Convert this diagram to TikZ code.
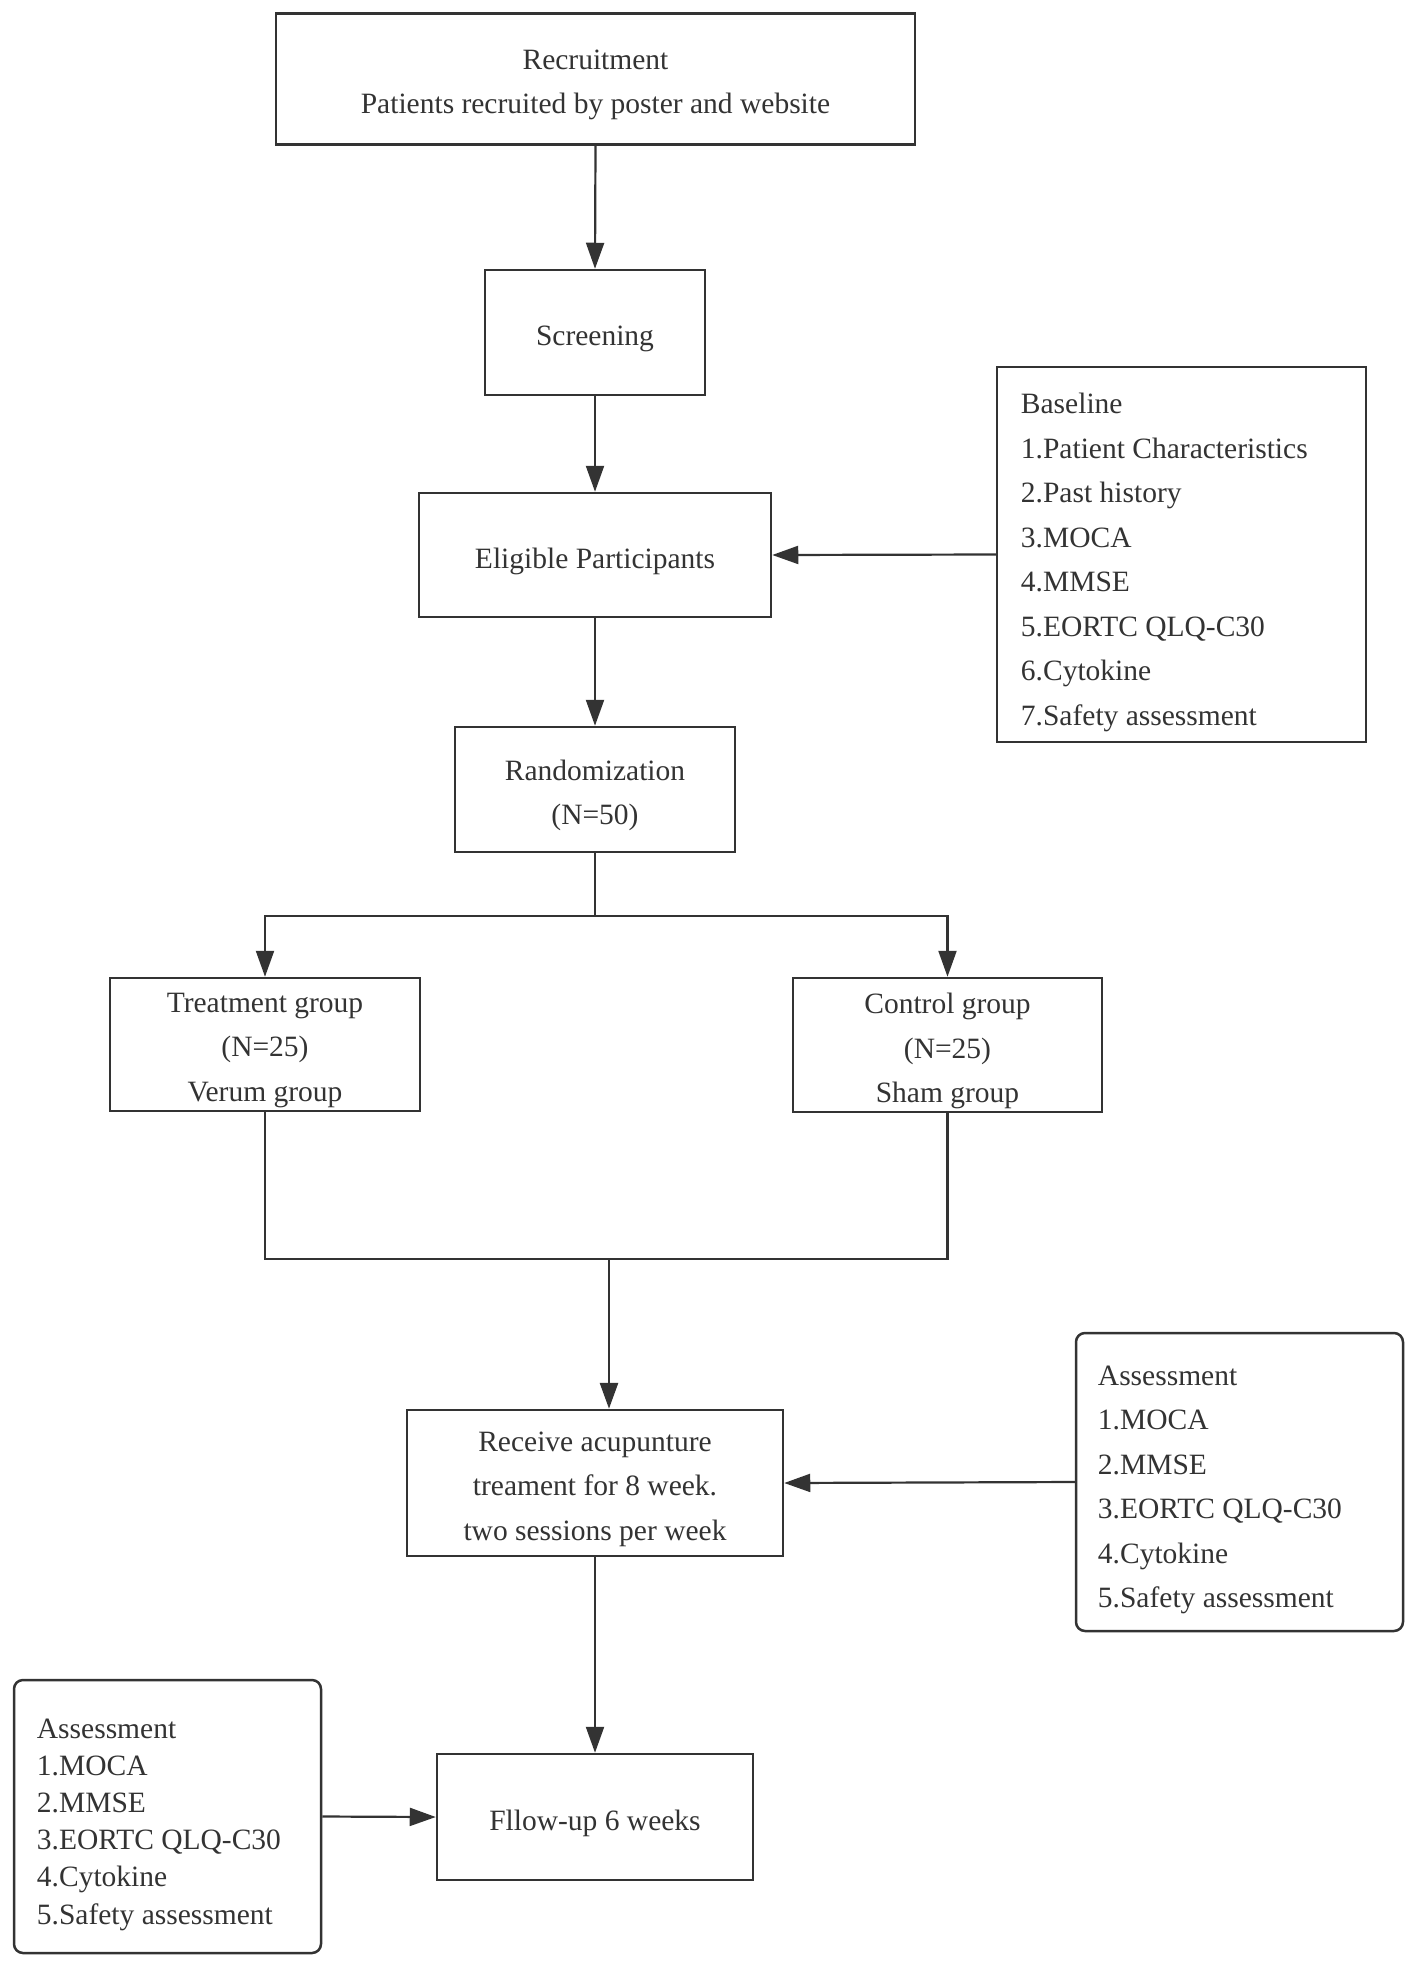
\documentclass[tikz,border=0pt]{standalone}
\usepackage{fontspec}
\setmainfont{Liberation Serif}
\usetikzlibrary{arrows.meta}
\definecolor{ink}{HTML}{333333}
\begin{document}
\begin{tikzpicture}[x=1pt,y=-1pt,
  box/.style={draw=ink, line width=2.5pt, inner sep=0pt},
  rbox/.style={box, rounded corners=9pt},
  lbl/.style={text=ink, inner sep=0pt, align=center,
    font=\fontsize{29.5}{44.5}\selectfont},
  llbl/.style={lbl, align=left, anchor=west},
  conn/.style={draw=ink, line width=2.2pt},
  arr/.style={conn, -{Triangle[length=26pt,width=18pt]}}]
\useasboundingbox[fill=white] (0,0) rectangle (1418,1967);

% boxes
\node[box, minimum width=639pt, minimum height=131pt] (rec) at (595.5,79) {};
\node[box, minimum width=220pt, minimum height=125pt] (scr) at (595,332.5) {};
\node[box, minimum width=352pt, minimum height=124pt] (eli) at (595,555) {};
\node[box, minimum width=369pt, minimum height=375pt] (base) at (1181.5,554.5) {};
\node[box, minimum width=280pt, minimum height=125pt] (rand) at (595,789.5) {};
\node[box, minimum width=310pt, minimum height=133pt] (treat) at (265,1044.5) {};
\node[box, minimum width=309pt, minimum height=134pt] (ctrl) at (947.5,1045) {};
\node[box, minimum width=376pt, minimum height=146pt] (recv) at (595,1483) {};
\node[rbox, minimum width=327pt, minimum height=298pt] (assR) at (1239.5,1482) {};
\node[box, minimum width=316pt, minimum height=126pt] (fol) at (595,1817) {};
\node[rbox, minimum width=307pt, minimum height=273pt] (assL) at (167.5,1816.5) {};

% texts
\node[lbl] (recT) at ([yshift=-6pt]rec.center) {Recruitment\\Patients recruited by poster and website};
\node[lbl] (scrT) at ([yshift=-6pt]scr.center) {Screening};
\node[lbl] (eliT) at ([yshift=-6pt]eli.center) {Eligible Participants};
\node[llbl] (baseT) at ([xshift=25pt,yshift=-8pt]base.west)
  {Baseline\\1.Patient Characteristics\\2.Past history\\3.MOCA\\4.MMSE\\5.EORTC QLQ-C30\\6.Cytokine\\7.Safety assessment};
\node[lbl] (randT) at ([yshift=-6pt]rand.center) {Randomization\\(N=50)};
\node[lbl] (treatT) at ([yshift=-6pt]treat.center) {Treatment group\\(N=25)\\Verum group};
\node[lbl] (ctrlT) at ([yshift=-6pt]ctrl.center) {Control group\\(N=25)\\Sham group};
\node[lbl] (recvT) at ([yshift=-6pt]recv.center) {Receive acupunture\\treament for 8 week.\\two sessions per week};
\node[llbl] (assRT) at ([xshift=23pt,yshift=-8pt]assR.west)
  {Assessment\\1.MOCA\\2.MMSE\\3.EORTC QLQ-C30\\4.Cytokine\\5.Safety assessment};
\node[lbl] (folT) at ([yshift=-6pt]fol.center) {Fllow-up 6 weeks};
\node[llbl, font=\fontsize{29.5}{37.2}\selectfont] (assLT) at ([xshift=24pt,yshift=-8pt]assL.west)
  {Assessment\\1.MOCA\\2.MMSE\\3.EORTC QLQ-C30\\4.Cytokine\\5.Safety assessment};

\coordinate (split) at (595,916);
\coordinate (mergeL) at (265,1259);
\coordinate (mergeR) at (947.5,1259);
\coordinate (merge) at (609,1259);

\draw[arr] (rec.south) -- (scr.north);
\draw[arr] (scr.south) -- (eli.north);
\draw[arr] (base.west) -- (eli.east);
\draw[arr] (eli.south) -- (rand.north);
\draw[conn] (rand.south) -- (split);
\draw[arr] (split) -| (treat.north);
\draw[arr] (split) -| (ctrl.north);
\draw[conn] (treat.south) |- (mergeL) -- (mergeR) -- (ctrl.south);
\draw[arr, line width=2.8pt] (merge) -- (merge |- recv.north);
\draw[arr] (assR.west) -- (recv.east);
\draw[arr] (recv.south) -- (fol.north);
\draw[arr] (assL.east) -- (fol.west);
\end{tikzpicture}
\end{document}
